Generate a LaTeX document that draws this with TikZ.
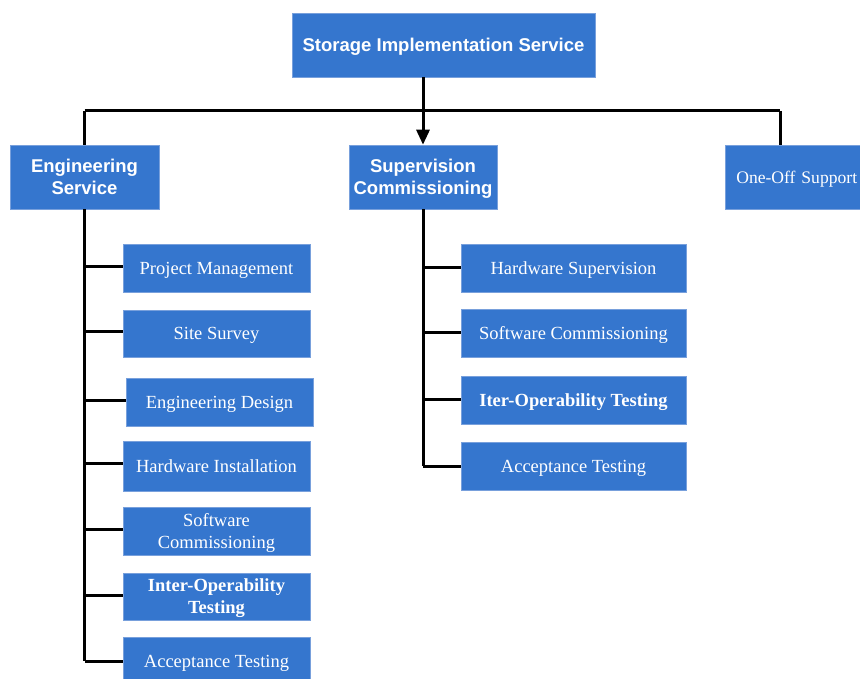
\documentclass[tikz,border=0pt]{standalone}
\usepackage{fontspec}
\setmainfont{Liberation Serif}
\setsansfont{Liberation Sans}
\usetikzlibrary{arrows.meta}
\definecolor{boxblue}{RGB}{53,118,206}
\definecolor{boxedge}{RGB}{120,160,220}
\tikzset{
  box/.style={fill=boxblue, draw=boxedge, line width=0.6pt, text=white, align=center, inner sep=0pt, text depth=0pt},
  head/.style={box, font=\sffamily\bfseries\fontsize{18.5}{22}\selectfont},
  leaf/.style={box, font=\fontsize{18.5}{22}\selectfont},
  leafb/.style={box, font=\bfseries\fontsize{18.5}{22}\selectfont},
  conn/.style={line width=3pt, black},
}
\begin{document}
\begin{tikzpicture}[x=1pt,y=-1pt]
\useasboundingbox (0,0) rectangle (860,679);
\node[head, minimum width=303pt, minimum height=64pt] (top) at (443.5,45) {Storage Implementation Service};
\node[head, minimum width=149pt, minimum height=64pt] (eng) at (84.5,177) {Engineering\\Service};
\node[head, minimum width=148pt, minimum height=64pt] (sup) at (423,177) {Supervision\\Commissioning};
\node[leaf, font=\fontsize{17.6}{22}\selectfont, minimum width=150pt, minimum height=64pt, anchor=west, text width=140pt, inner xsep=11pt, align=left] (one) at (725,177) {One-Off Support};
% left children
\node[leaf, minimum width=187pt, minimum height=48pt] (pm) at (216.5,268) {Project Management};
\node[leaf, minimum width=187pt, minimum height=47pt] (ss) at (216.5,333.5) {Site Survey};
\node[leaf, minimum width=187pt, minimum height=48pt] (ed) at (219.5,402) {Engineering Design};
\node[leaf, minimum width=187pt, minimum height=50pt] (hi) at (216.5,466) {Hardware Installation};
\node[leaf, minimum width=187pt, minimum height=48pt] (sc) at (216.5,531) {Software\\Commissioning};
\node[leafb, minimum width=187pt, minimum height=47pt] (io) at (216.5,596.5) {Inter-Operability\\Testing};
\node[leaf, minimum width=187pt, minimum height=48pt] (at) at (216.5,661) {Acceptance Testing};
% middle children
\node[leaf, minimum width=225pt, minimum height=48pt] (hs) at (573.5,268) {Hardware Supervision};
\node[leaf, minimum width=225pt, minimum height=48pt] (sc2) at (573.5,333) {Software Commissioning};
\node[leafb, minimum width=225pt, minimum height=48pt] (it) at (573.5,400) {Iter-Operability Testing};
\node[leaf, minimum width=225pt, minimum height=48pt] (at2) at (573.5,466) {Acceptance Testing};
% coordinates
\coordinate (barL) at (84.5,111);
\coordinate (barR) at (780,111);
\coordinate (oneTop) at (780,145);
\coordinate (topOut) at (423,77);
% top connectors
\draw[conn] (barL) -- (barR);
\draw[conn] (barL) -- (eng.north);
\draw[conn] (barR) -- (oneTop);
\draw[conn, -{Triangle[length=15pt,width=13pt]}] (topOut) -- (sup.north);
% left trunk
\coordinate (lb) at (84.5,661);
\draw[conn] (eng.south) -- (lb);
\foreach \n/\y in {pm/267, ss/331, ed/400, hi/463, sc/529, io/595, at/661}{
  \draw[conn] (84.5,\y) -- (\n.west |- 0,\y);
}
% middle trunk
\coordinate (mb) at (423,466);
\draw[conn] (sup.south) -- (mb);
\foreach \n/\y in {hs/268, sc2/332, it/399, at2/466}{
  \draw[conn] (423,\y) -- (\n.west |- 0,\y);
}
\end{tikzpicture}
\end{document}
